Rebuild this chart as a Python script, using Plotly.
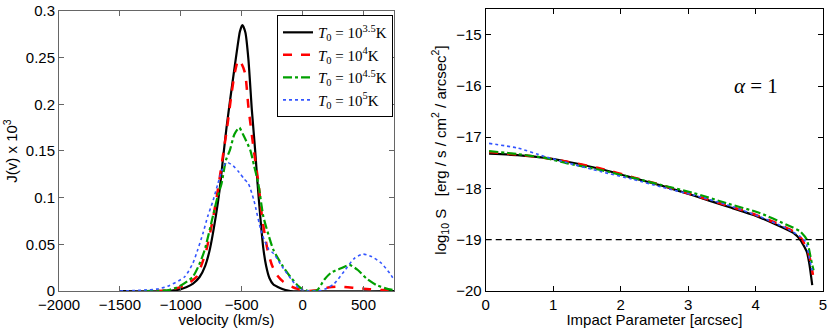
import plotly.graph_objects as go
from plotly.subplots import make_subplots

# left panel: line profiles J(v) for four temperatures
vel_35 = [-1500, -1100, -1000, -956, -900, -846, -800, -763, -713, -680, -652, -624, -595, -569, -540,
          -515, -495, -470, -445, -417, -390, -370, -348, -323, -300, -273, -240, -182, -140, -100, 750]
j_35 = [0, 0, 0.002, 0.004, 0.008, 0.015, 0.027, 0.044, 0.080, 0.110, 0.144, 0.176, 0.205, 0.230, 0.257,
        0.278, 0.285, 0.277, 0.248, 0.194, 0.151, 0.115, 0.080, 0.046, 0.027, 0.014, 0.007, 0.003, 0.001, 0, 0]

vel_4 = [-1200, -1100, -986, -930, -873, -830, -790, -740, -700, -660, -620, -583, -555, -528, -500, -472,
         -445, -400, -362, -334, -310, -288, -250, -210, -160, -127, -80, -33, 0, 50, 100, 150, 220, 300,
         370, 450, 550, 650, 750]
j_4 = [0, 0.001, 0.005, 0.009, 0.015, 0.028, 0.044, 0.075, 0.105, 0.140, 0.175, 0.212, 0.235, 0.2475, 0.243,
       0.233, 0.197, 0.150, 0.115, 0.080, 0.060, 0.044, 0.027, 0.017, 0.010, 0.007, 0.004, 0.002, 0.001, 0,
       0.0005, 0.002, 0.004, 0.0048, 0.004, 0.003, 0.002, 0.001, 0.0005]

vel_45 = [-1300, -1100, -1011, -903, -850, -804, -737, -700, -666, -630, -597, -560, -520, -490, -430,
          -400, -364, -323, -280, -240, -170, -100, -33, 0, 50, 120, 177, 232, 315, 384, 453, 522, 605, 702, 750]
j_45 = [0, 0.001, 0.005, 0.015, 0.028, 0.044, 0.080, 0.100, 0.115, 0.140, 0.151, 0.168, 0.175, 0.168, 0.151,
        0.135, 0.115, 0.080, 0.060, 0.044, 0.028, 0.015, 0.005, 0.002, 0, 0.001, 0.012, 0.0195, 0.0243,
        0.0279, 0.0225, 0.0136, 0.0064, 0.002, 0.001]

vel_5 = [-1500, -1300, -1200, -1110, -970, -900, -862, -820, -779, -735, -696, -660, -624, -570, -520, -480,
         -445, -400, -336, -280, -238, -168, -85, -40, 0, 60, 150, 200, 260, 340, 425, 495, 565, 645, 715, 750]
j_5 = [0, 0.001, 0.002, 0.005, 0.015, 0.030, 0.044, 0.061, 0.080, 0.097, 0.115, 0.130, 0.138, 0.134, 0.127,
       0.120, 0.115, 0.097, 0.062, 0.045, 0.040, 0.026, 0.011, 0.004, 0.001, 0, 0.0005, 0.003, 0.008, 0.021,
       0.035, 0.0395, 0.037, 0.030, 0.019, 0.012]

# right panel: surface brightness profiles
b_35 = [0.05, 0.47, 0.86, 1.21, 1.70, 2.20, 2.59, 3.08, 3.57, 3.97, 4.31, 4.56, 4.66, 4.76, 4.80, 4.84]
s_35 = [-17.32, -17.35, -17.40, -17.48, -17.62, -17.80, -17.94, -18.14, -18.35, -18.52, -18.71, -18.87,
        -19.0, -19.24, -19.5, -19.89]
b_4 = [0.05, 0.47, 0.86, 1.21, 1.70, 2.20, 2.59, 3.08, 3.57, 3.97, 4.31, 4.56, 4.69, 4.78, 4.82, 4.85]
s_4 = [-17.29, -17.34, -17.40, -17.48, -17.61, -17.79, -17.93, -18.13, -18.33, -18.50, -18.68, -18.84,
       -19.0, -19.25, -19.45, -19.69]
b_45 = [0.05, 0.47, 0.86, 1.21, 1.70, 2.20, 2.59, 3.08, 3.57, 4.06, 4.46, 4.66, 4.76, 4.80, 4.84, 4.86]
s_45 = [-17.27, -17.33, -17.40, -17.51, -17.64, -17.80, -17.93, -18.09, -18.29, -18.48, -18.71, -18.84,
        -19.0, -19.24, -19.5, -19.6]
b_5 = [0.05, 0.47, 0.86, 1.21, 1.70, 2.20, 2.59, 3.08, 3.57, 4.06, 4.46, 4.66, 4.74, 4.79, 4.83, 4.85]
s_5 = [-17.12, -17.21, -17.37, -17.50, -17.67, -17.83, -17.97, -18.13, -18.32, -18.55, -18.78, -18.94,
       -19.04, -19.3, -19.56, -19.65]

threshold = -19
labels = ["<i>T</i><sub>0</sub> = 10<sup>3.5</sup>K", "<i>T</i><sub>0</sub> = 10<sup>4</sup>K",
          "<i>T</i><sub>0</sub> = 10<sup>4.5</sup>K", "<i>T</i><sub>0</sub> = 10<sup>5</sup>K"]

styles = [dict(color="black", width=2.2, dash="solid"),
          dict(color="#ff0000", width=2.5, dash="dash"),
          dict(color="#00a000", width=2.2, dash="dashdot"),
          dict(color="#3355ff", width=1.6, dash="dot")]

left = [(vel_35, j_35), (vel_4, j_4), (vel_45, j_45), (vel_5, j_5)]
right = [(b_35, s_35), (b_4, s_4), (b_45, s_45), (b_5, s_5)]

fig = make_subplots(rows=1, cols=2)

for (v, j), lab, st in zip(left, labels, styles):
    fig.add_trace(go.Scatter(x=v, y=j, mode="lines", name=lab, line=dict(shape="spline", smoothing=0.6, **st)),
                  row=1, col=1)

for (b, s), st in zip(right, styles):
    fig.add_trace(go.Scatter(x=b, y=s, mode="lines", showlegend=False,
                             line=dict(shape="spline", smoothing=0.5, **st)), row=1, col=2)

fig.add_trace(go.Scatter(x=[0, 5], y=[threshold, threshold], mode="lines", showlegend=False,
                         line=dict(color="black", width=1.2, dash="6px,4px")), row=1, col=2)

tickfont = dict(family="Liberation Sans, Arial", size=15, color="black")
axis_common = dict(showgrid=False, zeroline=False, ticks="inside", ticklen=5, mirror="ticks", automargin=False,
                   showline=True, linewidth=1, tickfont=tickfont,
                   title_font=dict(family="Liberation Sans, Arial", size=15, color="black"))

fig.update_xaxes(axis_common)
fig.update_yaxes(axis_common)

fig.update_xaxes(range=[-2000, 750], tickvals=[-2000, -1500, -1000, -500, 0, 500], domain=[0.0711, 0.4747],
                 linecolor="#666", tickcolor="#666", title_text="velocity (km/s)", title_standoff=5, row=1, col=1)
fig.update_yaxes(range=[0, 0.3], tickvals=[0, 0.05, 0.1, 0.15, 0.2, 0.25, 0.3],
                 ticktext=["0", "0.05", "0.1", "0.15", "0.2", "0.25", "0.3"], domain=[0.1128, 0.9665],
                 linecolor="#666", tickcolor="#666", title_text="J(v) x 10<sup>3</sup>", title_standoff=4, row=1, col=1)
fig.update_xaxes(range=[0, 5], dtick=1, domain=[0.5852, 0.9916], linecolor="black", tickcolor="black",
                 title_text="Impact Parameter [arcsec]", title_standoff=5, row=1, col=2)
fig.update_yaxes(range=[-20, -14.5], tickvals=[-20, -19, -18, -17, -16, -15], domain=[0.1137, 0.9716],
                 linecolor="black", tickcolor="black",
                 title_text="log<sub>10</sub> S   [erg / s / cm<sup>2</sup> / arcsec<sup>2</sup>]",
                 title_standoff=6, row=1, col=2)

fig.add_annotation(x=4.0, y=-16.0, xref="x2", yref="y2", text="<i>α</i> = 1", showarrow=False,
                   font=dict(family="Liberation Serif, DejaVu Serif", size=21, color="black"))

fig.update_layout(
    width=830, height=328,
    margin=dict(l=0, r=0, t=0, b=0),
    plot_bgcolor="white", paper_bgcolor="white",
    legend=dict(x=0.4735, y=0.954, xanchor="right", yanchor="top", bordercolor="black", borderwidth=1,
                bgcolor="white", font=dict(family="Liberation Serif, DejaVu Serif", size=15, color="black"),
                tracegroupgap=0, itemwidth=30),
)

fig.write_html("out.html", post_script="document.body.style.margin='0';",
               config={"displayModeBar": False})
